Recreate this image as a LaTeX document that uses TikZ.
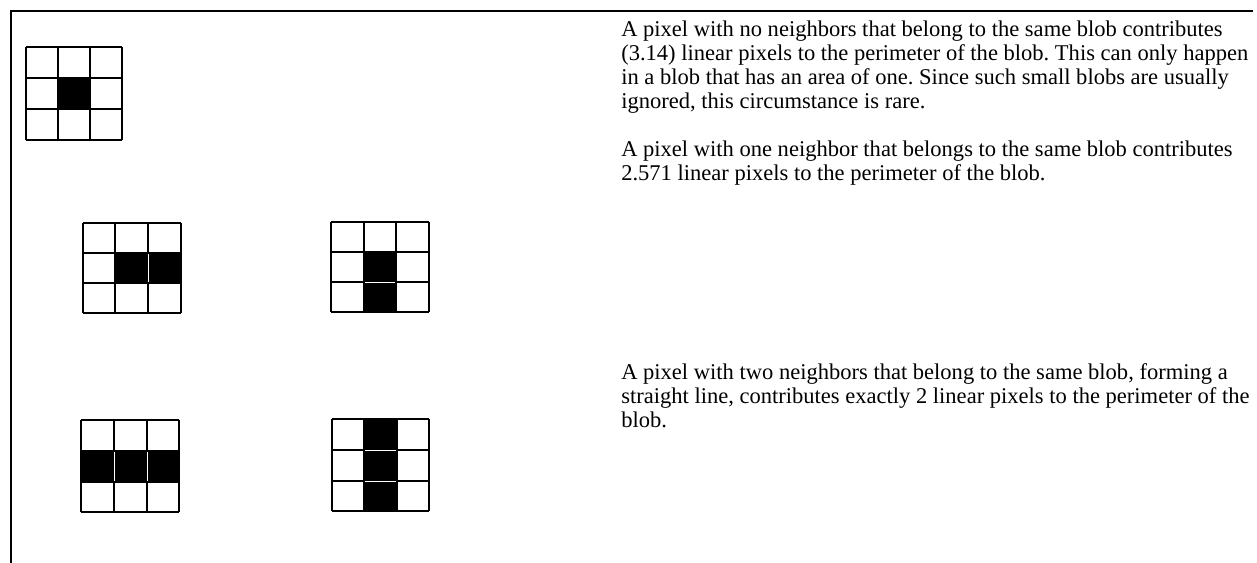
\documentclass[tikz,border=0pt]{standalone}
\usepackage{fontspec}
\setmainfont{Liberation Serif}
\frenchspacing
\tikzset{
  frame/.style={line width=2.2pt,black},
  gridline/.style={line width=1.3pt,black},
  sepline/.style={white,line width=0.6pt},
  para/.style={anchor=north west,align=left,inner sep=0pt,font=\fontsize{16.9pt}{18pt}\selectfont},
}
\begin{document}
\begin{tikzpicture}[x=0.75pt,y=-0.75pt]
\useasboundingbox (0,0) rectangle (1257,562);
\draw[frame] (1253,11) -- (11,11) -- (11,563);
% grids
\begin{scope}[shift={(26,47)}]
 \fill[black] (32,31) rectangle (64,62);
 \draw[gridline] (0,0) -- (96,0) (0,31) -- (96,31) (0,62) -- (96,62) (0,93) -- (96,93)
   (0,0) -- (0,93) (32,0) -- (32,93) (64,0) -- (64,93) (96,0) -- (96,93);
\end{scope}
\begin{scope}[shift={(83,223)}]
 \fill[black] (32,30) rectangle (98,60);
 \draw[gridline] (0,0) -- (98,0) (0,30) -- (98,30) (0,60) -- (98,60) (0,90) -- (98,90)
   (0,0) -- (0,90) (32,0) -- (32,90) (65,0) -- (65,90) (98,0) -- (98,90);
 \draw[sepline] (65,30.8) -- (65,59.2);
\end{scope}
\begin{scope}[shift={(331,222)}]
 \fill[black] (33,30) rectangle (65,90);
 \draw[gridline] (0,0) -- (98,0) (0,30) -- (98,30) (0,60) -- (98,60) (0,90) -- (98,90)
   (0,0) -- (0,90) (33,0) -- (33,90) (65,0) -- (65,90) (98,0) -- (98,90);
 \draw[sepline] (33.8,60) -- (64.2,60);
\end{scope}
\begin{scope}[shift={(81,420)}]
 \fill[black] (0,31) rectangle (98,62);
 \draw[gridline] (0,0) -- (98,0) (0,31) -- (98,31) (0,62) -- (98,62) (0,92) -- (98,92)
   (0,0) -- (0,92) (33,0) -- (33,92) (66,0) -- (66,92) (98,0) -- (98,92);
 \draw[sepline] (33,31.8) -- (33,61.2) (66,31.8) -- (66,61.2);
\end{scope}
\begin{scope}[shift={(332,419)}]
 \fill[black] (32,0) rectangle (65,92);
 \draw[gridline] (0,0) -- (97,0) (0,31) -- (97,31) (0,62) -- (97,62) (0,92) -- (97,92)
   (0,0) -- (0,92) (32,0) -- (32,92) (65,0) -- (65,92) (97,0) -- (97,92);
 \draw[sepline] (32.8,31) -- (64.2,31) (32.8,62) -- (64.2,62);
\end{scope}
% texts
\node[para] (p1) at (621,21) {A pixel with no neighbors that belong to the same blob contributes\\
(3.14) linear pixels to the perimeter of the blob. This can only happen\\
in a blob that has an area of one. Since such small blobs are usually\\
ignored, this circumstance is rare.};
\node[para] (p2) at (621,141) {A pixel with one neighbor that belongs to the same blob contributes\\
2.571 linear pixels to the perimeter of the blob.};
\node[para] (p3) at (621,363) {A pixel with two neighbors that belong to the same blob, forming a\\
straight line, contributes exactly 2 linear pixels to the perimeter of the\\
blob.};
\end{tikzpicture}
\end{document}
